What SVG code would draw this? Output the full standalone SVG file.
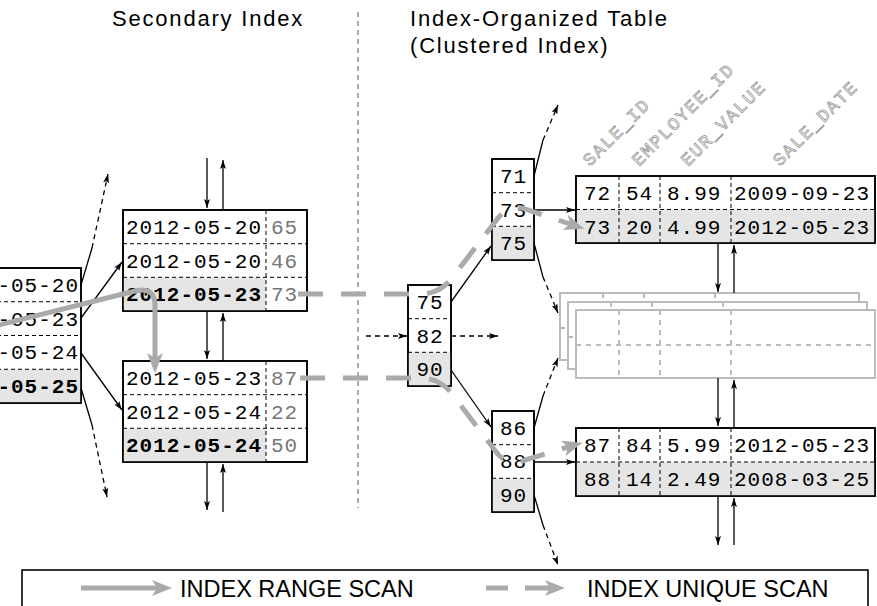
<svg xmlns="http://www.w3.org/2000/svg" width="877" height="606" viewBox="0 0 877 606">
<style>
.box{fill:#fff;stroke:#000;stroke-width:1.6}
.frame{fill:none;stroke:#000;stroke-width:1.6}
.g{fill:#e5e5e5}
.sep{stroke:#000;stroke-width:1;stroke-dasharray:4 3;fill:none}
.mono{font-family:"Liberation Mono","DejaVu Sans Mono",monospace;font-size:21px;letter-spacing:1px;fill:#000}
.b{font-weight:bold}
.rid{fill:#777}
.mid{text-anchor:middle}
.end{text-anchor:end}
.arr{stroke:#000;stroke-width:1.3;fill:none;marker-end:url(#ah)}
.ln{stroke:#000;stroke-width:1.3;fill:none}
.dsh{stroke-dasharray:5 4}
.scan{stroke:#aaa;stroke-width:5;fill:none;marker-end:url(#gh)}
.uscan{stroke-dasharray:25 18}
.page{fill:#fff;stroke:#bbb;stroke-width:2}
.pl{stroke:#bbb;stroke-width:2;stroke-dasharray:5 5;fill:none}
.hdr{font-family:"Liberation Mono","DejaVu Sans Mono",monospace;font-size:18px;letter-spacing:1.6px;fill:#fff;stroke:#999;stroke-width:0.8}
.title{font-family:"Liberation Sans",Arial,sans-serif;font-size:22px;letter-spacing:1.8px;fill:#000}
.leg{font-family:"Liberation Sans",Arial,sans-serif;font-size:23.5px;fill:#000}
</style>
<defs>
<marker id="ah" markerUnits="userSpaceOnUse" markerWidth="10" markerHeight="8" refX="9" refY="3" orient="auto" overflow="visible">
<path d="M0,0 L9,3 L0,6 L2,3 z" fill="#000"/>
</marker>
<marker id="gh" markerUnits="userSpaceOnUse" markerWidth="22" markerHeight="18" refX="5" refY="8" orient="auto" overflow="visible">
<path d="M0,0 L20,8 L0,16 L5,8 z" fill="#aaa"/>
</marker>
</defs>

<g id="titles">
<text class="title" x="112" y="26">Secondary Index</text>
<text class="title" x="410" y="26">Index-Organized Table</text>
<text class="title" x="410" y="53">(Clustered Index)</text>
<path d="M358,12 L358,508" stroke="#555" stroke-width="1" stroke-dasharray="5 4"/>
</g>

<g id="left-node">
<rect class="box" x="-10" y="268" width="91" height="135"/>
<rect class="g" x="-10" y="369.25" width="91" height="33.75"/>
<path class="sep" d="M-10,301.75 H81 M-10,335.5 H81 M-10,369.25 H81"/>
<rect class="frame" x="-10" y="268" width="91" height="135"/>
<text class="mono end" x="79" y="292">2012-05-20</text>
<text class="mono end" x="79" y="326">2012-05-23</text>
<text class="mono end" x="79" y="359">2012-05-24</text>
<text class="mono end b" x="79" y="393">2012-05-25</text>
</g>

<g id="sec-node-top">
<rect class="box" x="123" y="210" width="184" height="101"/>
<rect class="g" x="123" y="277.3" width="143" height="33.7"/>
<path class="sep" d="M123,243.7 H307 M123,277.3 H307 M266,210 V311"/>
<rect class="frame" x="123" y="210" width="184" height="101"/>
<text class="mono" x="126" y="234">2012-05-20</text><text class="mono rid" x="271" y="234">65</text>
<text class="mono" x="126" y="268">2012-05-20</text><text class="mono rid" x="271" y="268">46</text>
<text class="mono b" x="126" y="301">2012-05-23</text><text class="mono rid" x="271" y="301">73</text>
</g>

<g id="sec-node-bottom">
<rect class="box" x="123" y="361" width="184" height="101"/>
<rect class="g" x="123" y="428.3" width="143" height="33.7"/>
<path class="sep" d="M123,394.7 H307 M123,428.3 H307 M266,361 V462"/>
<rect class="frame" x="123" y="361" width="184" height="101"/>
<text class="mono" x="126" y="385">2012-05-23</text><text class="mono rid" x="271" y="385">87</text>
<text class="mono" x="126" y="419">2012-05-24</text><text class="mono rid" x="271" y="419">22</text>
<text class="mono b" x="126" y="452">2012-05-24</text><text class="mono rid" x="271" y="452">50</text>
</g>

<g id="root-node">
<rect class="box" x="408" y="285" width="43" height="101"/>
<rect class="g" x="408" y="352.3" width="43" height="33.7"/>
<path class="sep" d="M408,318.7 H451 M408,352.3 H451"/>
<rect class="frame" x="408" y="285" width="43" height="101"/>
<text class="mono mid" x="430" y="309">75</text>
<text class="mono mid" x="430" y="343">82</text>
<text class="mono mid" x="430" y="376">90</text>
</g>

<g id="branch-upper">
<rect class="box" x="492" y="159" width="42" height="101"/>
<rect class="g" x="492" y="226.3" width="42" height="33.7"/>
<path class="sep" d="M492,192.7 H534 M492,226.3 H534"/>
<rect class="frame" x="492" y="159" width="42" height="101"/>
<text class="mono mid" x="513.5" y="183">71</text>
<text class="mono mid" x="513.5" y="217">73</text>
<text class="mono mid" x="513.5" y="250">75</text>
</g>

<g id="branch-lower">
<rect class="box" x="492" y="411" width="42" height="101"/>
<rect class="g" x="492" y="478.3" width="42" height="33.7"/>
<path class="sep" d="M492,444.7 H534 M492,478.3 H534"/>
<rect class="frame" x="492" y="411" width="42" height="101"/>
<text class="mono mid" x="513.5" y="435">86</text>
<text class="mono mid" x="513.5" y="468">88</text>
<text class="mono mid" x="513.5" y="502">90</text>
</g>

<g id="column-headers">
<text class="hdr" transform="translate(590,167) rotate(-45)">SALE_ID</text>
<text class="hdr" transform="translate(639,167) rotate(-45)">EMPLOYEE_ID</text>
<text class="hdr" transform="translate(688,167) rotate(-45)">EUR_VALUE</text>
<text class="hdr" transform="translate(780,167) rotate(-45)">SALE_DATE</text>
</g>

<g id="table-top">
<rect class="box" x="576" y="176" width="299" height="67"/>
<rect class="g" x="576" y="209.5" width="299" height="33.5"/>
<path class="sep" d="M576,209.5 H875 M619,176 V243 M660,176 V243 M731,176 V243"/>
<rect class="frame" x="576" y="176" width="299" height="67"/>
<text class="mono" x="584" y="200">72</text><text class="mono" x="626" y="200">54</text><text class="mono" x="667" y="200">8.99</text><text class="mono" x="734" y="200">2009-09-23</text>
<text class="mono" x="584" y="233.5">73</text><text class="mono" x="626" y="233.5">20</text><text class="mono" x="667" y="233.5">4.99</text><text class="mono" x="734" y="233.5">2012-05-23</text>
</g>

<g id="pages">
<rect class="page" x="560" y="293" width="299" height="67"/>
<path class="pl" d="M603,293 V360 M644,293 V360 M715,293 V360 M560,328 H859"/>
<rect class="page" x="568" y="302" width="299" height="67"/>
<path class="pl" d="M611,302 V369 M652,302 V369 M723,302 V369 M568,337 H867"/>
<rect class="page" x="576" y="310" width="299" height="68"/>
<path class="pl" d="M619,310 V378 M660,310 V378 M731,310 V378 M576,345 H875"/>
</g>

<g id="table-bottom">
<rect class="box" x="576" y="428" width="299" height="68"/>
<rect class="g" x="576" y="462" width="299" height="34"/>
<path class="sep" d="M576,462 H875 M619,428 V496 M660,428 V496 M731,428 V496"/>
<rect class="frame" x="576" y="428" width="299" height="68"/>
<text class="mono" x="584" y="452">87</text><text class="mono" x="626" y="452">84</text><text class="mono" x="667" y="452">5.99</text><text class="mono" x="734" y="452">2012-05-23</text>
<text class="mono" x="584" y="486">88</text><text class="mono" x="626" y="486">14</text><text class="mono" x="667" y="486">2.49</text><text class="mono" x="734" y="486">2008-03-25</text>
</g>

<g id="connectors">
<path class="arr" d="M81,318 L122,262"/>
<path class="arr" d="M81,353 L122,410"/>
<path class="ln" d="M81,285 L92,248"/>
<path class="arr dsh" d="M92,248 L108,174"/>
<path class="ln" d="M81,388 L92,425"/>
<path class="arr dsh" d="M92,425 L107,497"/>
<path class="arr" d="M207,158 L207,208"/>
<path class="arr" d="M223,210 L223,160"/>
<path class="arr" d="M207,311 L207,359"/>
<path class="arr" d="M223,361 L223,313"/>
<path class="arr" d="M207,462 L207,510"/>
<path class="arr" d="M223,512 L223,464"/>
<path class="arr dsh" d="M366,336 L407,336"/>
<path class="arr dsh" d="M451,336 L498,336"/>
<path class="arr" d="M451,302 L491,246"/>
<path class="arr" d="M451,370 L491,427"/>
<path class="ln" d="M534,176 L543,140"/>
<path class="arr dsh" d="M543,140 L558,105"/>
<path class="ln" d="M534,243 L543,277"/>
<path class="arr dsh" d="M543,277 L558,313"/>
<path class="arr" d="M534,210 L575,210"/>
<path class="ln" d="M534,428 L543,396"/>
<path class="arr dsh" d="M543,396 L558,358"/>
<path class="ln" d="M534,495 L543,525"/>
<path class="arr dsh" d="M543,525 L558,565"/>
<path class="arr" d="M534,462 L575,462"/>
<path class="arr" d="M718,243 L718,292"/>
<path class="arr" d="M734,293 L734,245"/>
<path class="arr" d="M718,378 L718,426"/>
<path class="arr" d="M734,428 L734,380"/>
<path class="arr" d="M718,496 L718,545"/>
<path class="arr" d="M734,545 L734,498"/>
<path class="scan" d="M-5,326 L135,291 Q155,286 155,306 L155,358"/>
<path class="scan uscan" d="M298,294 L420,294 Q440,294 452,278 L498,218 Q508,205 522,208 L570,224"/>
<path class="scan uscan" d="M300,378 L420,378 Q440,378 452,394 L497,453 Q506,465 522,461 L568,447"/>
</g>

<g id="legend">
<rect class="frame" x="22" y="570" width="846" height="50"/>
<path class="scan" d="M81,588 L157,588"/>
<text class="leg" x="180" y="597">INDEX RANGE SCAN</text>
<path class="scan" d="M486,588 H508 M525,588 H550"/>
<text class="leg" x="587" y="597">INDEX UNIQUE SCAN</text>
</g>
</svg>
